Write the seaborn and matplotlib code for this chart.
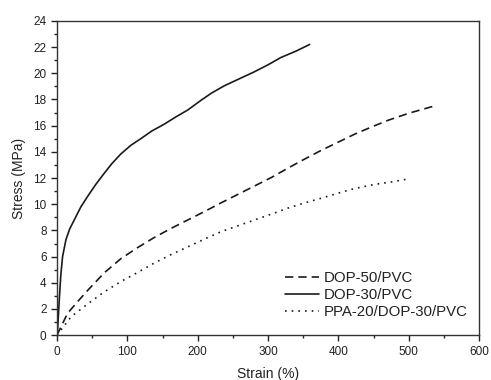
import matplotlib
matplotlib.use('Agg')
import matplotlib.pyplot as plt
import numpy as np
import pandas as pd
import seaborn as sns
from matplotlib.ticker import MultipleLocator

sns.set_style('ticks')
plt.rcParams['font.family'] = ['Liberation Sans', 'DejaVu Sans']

# values
dop50_strain = [0, 15, 30, 44, 67, 91, 115, 138, 162, 186, 210, 233, 257, 281, 305, 328, 352, 375, 400, 423, 447, 470, 500, 536]
dop50_stress = [0, 1.66, 2.6, 3.44, 4.75, 5.85, 6.7, 7.45, 8.15, 8.8, 9.45, 10.1, 10.75, 11.4, 12.05, 12.75, 13.45, 14.1, 14.75, 15.35, 15.9, 16.4, 16.95, 17.5]

dop30_strain = [0, 1, 3.3, 5.5, 8, 12.8, 18, 24.6, 34, 43.6, 55, 67, 78, 91, 105, 119, 135, 152, 170, 186, 205, 220, 238, 260, 280, 300, 318, 340, 359]
dop30_stress = [0, 0.5, 2.7, 4.6, 6.0, 7.3, 8.1, 8.8, 9.8, 10.6, 11.5, 12.35, 13.1, 13.85, 14.5, 15.0, 15.6, 16.1, 16.7, 17.2, 17.95, 18.5, 19.05, 19.6, 20.1, 20.65, 21.2, 21.7, 22.2]

ppa_strain = [0, 20, 44, 67, 91, 115, 138, 162, 186, 210, 233, 257, 281, 305, 328, 352, 375, 400, 423, 450, 475, 496]
ppa_stress = [0, 1.4, 2.4, 3.3, 4.1, 4.8, 5.5, 6.15, 6.75, 7.35, 7.9, 8.35, 8.8, 9.25, 9.7, 10.1, 10.45, 10.85, 11.2, 11.5, 11.7, 11.9]

series = ['DOP-50/PVC', 'DOP-30/PVC', 'PPA-20/DOP-30/PVC']
styles = [(0, (5, 3)), '-', (0, (1, 3))]

df = pd.concat([
    pd.DataFrame({'strain': dop50_strain, 'stress': dop50_stress, 'sample': series[0]}),
    pd.DataFrame({'strain': dop30_strain, 'stress': dop30_stress, 'sample': series[1]}),
    pd.DataFrame({'strain': ppa_strain, 'stress': ppa_stress, 'sample': series[2]}),
])

fig, ax = plt.subplots(figsize=(4.91, 3.8), dpi=100)
for name, ls in zip(series, styles):
    sub = df[df['sample'] == name]
    sns.lineplot(data=sub, x='strain', y='stress', ax=ax, color='#1a1a1a',
                 linewidth=1.2, linestyle=ls, label=name, sort=False)

ax.set_xlim(0, 600)
ax.set_ylim(0, 24)
ax.xaxis.set_major_locator(MultipleLocator(100))
ax.xaxis.set_minor_locator(MultipleLocator(50))
ax.yaxis.set_major_locator(MultipleLocator(2))
ax.yaxis.set_minor_locator(MultipleLocator(1))
ax.tick_params(which='major', length=4, width=1, labelsize=8.5, colors='#222222')
ax.tick_params(which='minor', length=2.5, width=1)
for sp in ax.spines.values():
    sp.set_color('#333333')
    sp.set_linewidth(1)

ax.set_xlabel('Strain (%)', fontsize=10, color='#222222', labelpad=7)
ax.set_ylabel('Stress (MPa)', fontsize=10, color='#222222', labelpad=5)

leg = ax.legend(loc='lower right', bbox_to_anchor=(0.998, 0.018), frameon=False,
                fontsize=10.8, handlelength=2.3, handletextpad=0.33,
                labelspacing=0.2, borderaxespad=0.3)
for t in leg.get_texts():
    t.set_color('#222222')

fig.subplots_adjust(left=0.116, right=0.976, top=0.945, bottom=0.118)
fig.savefig('out.png', dpi=100)
